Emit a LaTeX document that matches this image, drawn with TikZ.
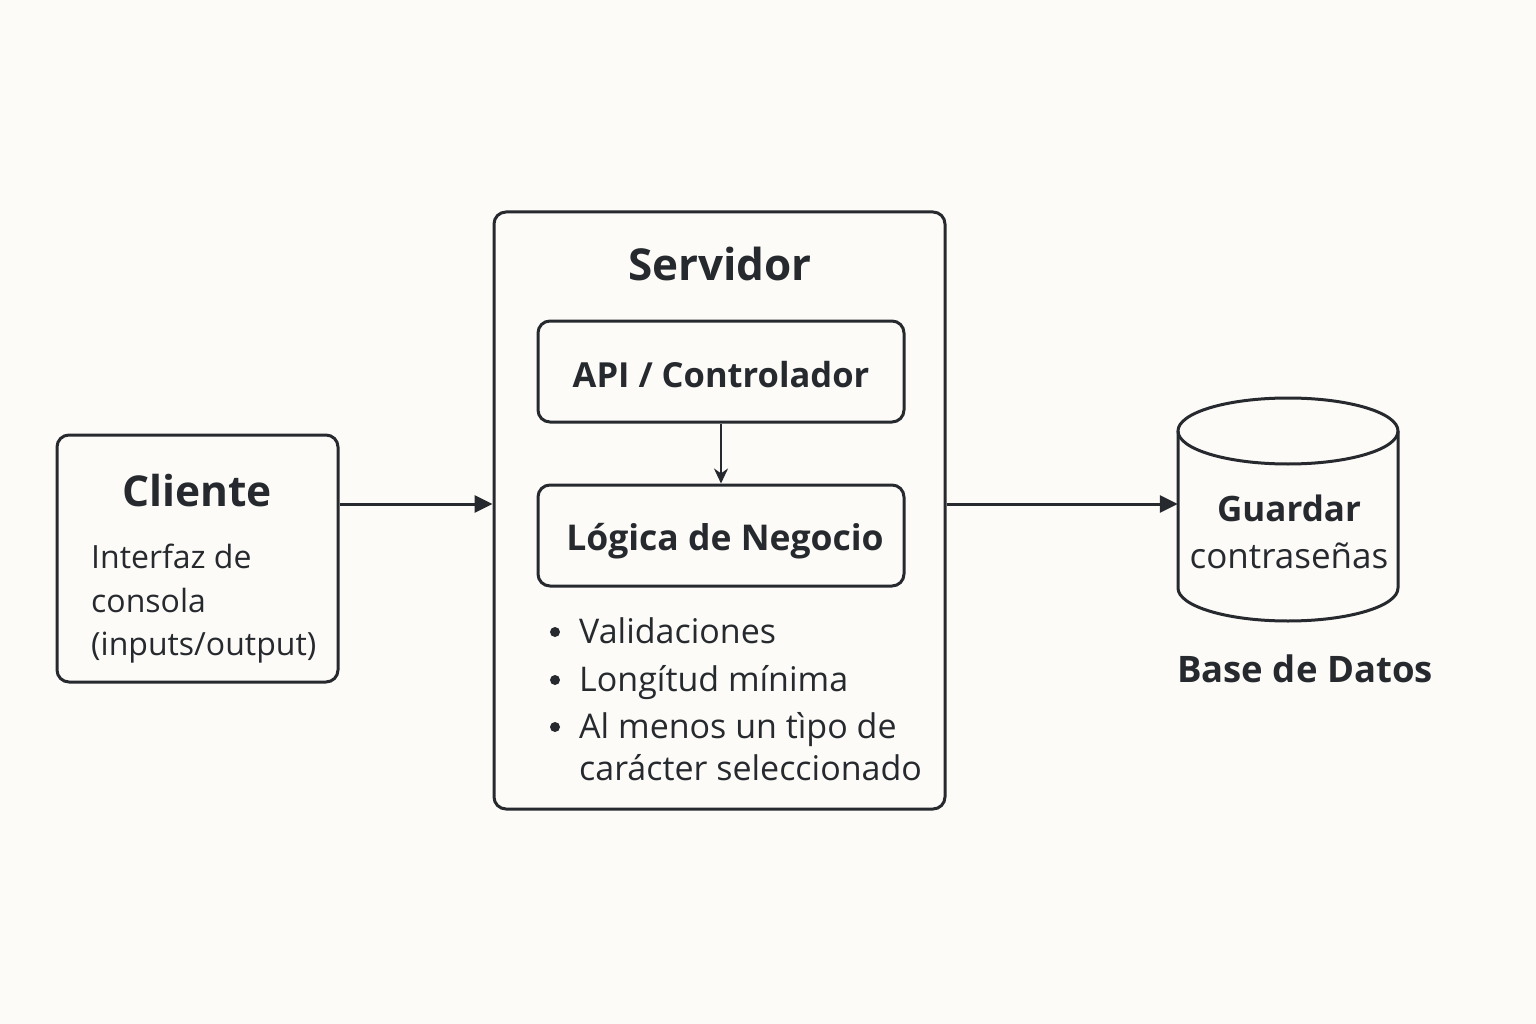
\documentclass[tikz,border=0pt]{standalone}
\usepackage{fontspec}
\setmainfont{Open Sans}
\usetikzlibrary{arrows.meta}
\definecolor{bg}{RGB}{252,251,247}
\definecolor{ink}{RGB}{38,41,46}
\begin{document}
\begin{tikzpicture}[x=1pt,y=-1pt,
  box/.style={draw=ink, line width=3pt, rounded corners=12pt},
  title/.style={text=ink, inner sep=0pt, anchor=base, font=\fontsize{44}{52}\selectfont\bfseries},
  sub/.style={text=ink, inner sep=0pt, anchor=base, font=\fontsize{35.5}{44}\selectfont\bfseries},
  body/.style={text=ink, inner sep=0pt, anchor=base west, font=\fontsize{34}{40}\selectfont},
  conn/.style={draw=ink, line width=3pt, -{Triangle[length=18pt,width=17pt]}},
  dot/.style={fill=ink, circle, inner sep=0pt, minimum size=10pt}
]
\fill[bg] (0,0) rectangle (1536,1024);
\useasboundingbox (0,0) rectangle (1536,1024);

% Cliente
\node[box, minimum width=281pt, minimum height=247pt] (cli) at (197.5,558.5) {};
\node[title, font=\fontsize{42.5}{50}\selectfont\bfseries] (clit) at (197,506) {Cliente};
\node[body, font=\fontsize{32}{38}\selectfont] (cli1) at (91,568) {Interfaz de};
\node[body, font=\fontsize{32}{38}\selectfont] (cli2) at (91,612) {consola};
\node[body, font=\fontsize{32}{38}\selectfont] (cli3) at (91,655) {(inputs/output)};

% Servidor
\node[box, minimum width=451pt, minimum height=597pt] (srv) at (719.5,510.5) {};
\node[title] (srvt) at (720,280) {Servidor};
\node[box, minimum width=366pt, minimum height=101pt] (api) at (721,371.5) {};
\node[sub, font=\fontsize{34.5}{42}\selectfont\bfseries] (apit) at (721,387) {API / Controlador};
\node[box, minimum width=366pt, minimum height=101pt] (log) at (721,535.5) {};
\node[sub] (logt) at (725,550) {Lógica de Negocio};
\draw[draw=ink, line width=2.4pt, -{Stealth[length=15pt,width=14pt]}] (api.south) -- (log.north);

\node[dot] (d1) at (555,632) {};
\node[body] (b1) at (579,643) {Validaciones};
\node[dot] (d2) at (555,680) {};
\node[body] (b2) at (579,691) {Longítud mínima};
\node[dot] (d3) at (555,727) {};
\node[body] (b3) at (579,738) {Al menos un tìpo de};
\node[body] (b4) at (579,780) {carácter seleccionado};

% Base de datos
\draw[draw=ink, line width=3pt, fill=bg]
  (1178,431) -- (1178,588)
  .. controls (1178,606.2) and (1227.25,621) .. (1288,621)
  .. controls (1348.75,621) and (1398,606.2) .. (1398,588)
  -- (1398,431);
\draw[draw=ink, line width=3pt] (1288,431) ellipse [x radius=110, y radius=33];
\node[minimum width=220pt, minimum height=222pt, inner sep=0pt] (db) at (1288,509) {};
\node[sub, font=\fontsize{35}{42}\selectfont\bfseries] (dbt1) at (1289,521) {Guardar};
\node[text=ink, inner sep=0pt, anchor=base, font=\fontsize{35}{40}\selectfont] (dbt2) at (1289,568) {contraseñas};
\node[sub, font=\fontsize{36.5}{44}\selectfont\bfseries] (dbl) at (1305,682) {Base de Datos};

% Conectores
\draw[conn] (cli.east |- 0,504) -- (srv.west |- 0,504);
\draw[conn] (srv.east |- 0,504) -- (db.west |- 0,504);
\end{tikzpicture}
\end{document}
